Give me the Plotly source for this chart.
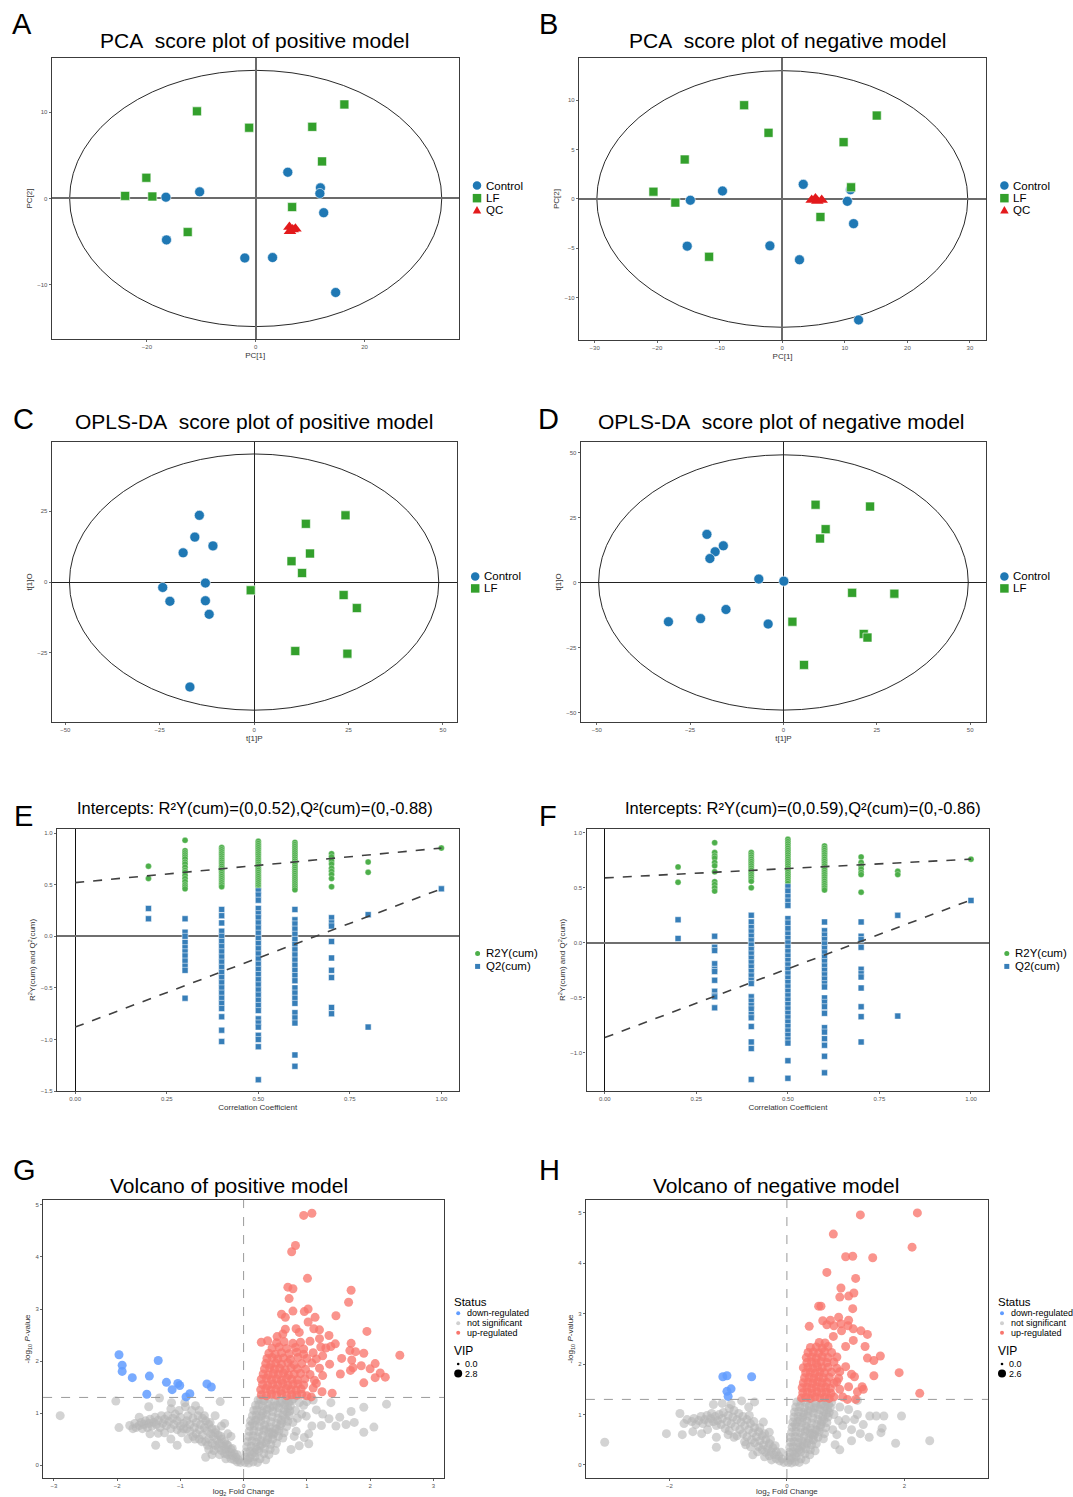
import plotly.graph_objects as go

W, H = 1073, 1497
FONT = "Liberation Sans, Arial, Helvetica, sans-serif"

# ---------------- colours ----------------
C_BLUE, C_GREEN, C_RED = "#1F78B4", "#33A02C", "#E31A1C"
P_GREEN, P_BLUE = "#4DAF4A", "#377EB8"
V_UP, V_DOWN, V_NS = "#F8766D", "#619CFF", "#B5B5B5"

# ---------------- A: PCA positive ----------------
pca_pos_control_x = [5.9, 11.9, 11.8, 12.5, -10.3, -16.5, -16.4, -2.0, 3.1, 14.7]
pca_pos_control_y = [3.04, 1.23, 0.58, -1.65, 0.77, 0.15, -4.8, -6.9, -6.85, -10.9]
pca_pos_lf_x = [16.3, -10.8, -1.2, 10.4, 12.2, -20.1, -24.0, -19.0, 6.7, -12.5]
pca_pos_lf_y = [10.9, 10.1, 8.2, 8.3, 4.3, 2.4, 0.3, 0.23, -1.0, -3.9]
pca_pos_qc_x = [6.2, 7.3, 6.3, 6.8]
pca_pos_qc_y = [-3.3, -3.5, -3.8, -3.6]
pca_pos_ellipse = [34.2, 14.85]

# ---------------- B: PCA negative ----------------
pca_neg_control_x = [3.35, 10.9, 10.4, 11.4, -9.56, -14.7, -15.2, -1.98, 2.75, 12.2]
pca_neg_control_y = [1.48, 0.94, -0.24, -2.5, 0.81, -0.13, -4.78, -4.75, -6.16, -12.26]
pca_neg_lf_x = [-6.1, 15.1, -2.2, 9.8, -15.6, 11.0, -20.6, -17.1, 6.1, -11.7]
pca_neg_lf_y = [9.5, 8.45, 6.7, 5.76, 4.0, 1.18, 0.74, -0.37, -1.82, -5.86]
pca_neg_qc_x = [4.7, 5.3, 5.6, 6.3]
pca_neg_qc_y = [-0.1, 0.05, -0.2, -0.1]
pca_neg_ellipse = [29.65, 13.0]

# ---------------- C: OPLS-DA positive ----------------
opls_pos_control_x = [-14.5, -15.7, -10.9, -18.8, -12.9, -24.2, -22.3, -12.9, -11.9, -17.0]
opls_pos_control_y = [23.6, 15.9, 12.8, 10.35, -0.35, -1.9, -6.8, -6.6, -11.4, -37.1]
opls_pos_lf_x = [24.2, 13.7, 14.8, 9.9, 12.7, -0.9, 23.7, 27.2, 10.9, 24.7]
opls_pos_lf_y = [23.6, 20.6, 10.1, 7.4, 3.2, -2.9, -4.6, -9.2, -24.4, -25.3]
opls_pos_ellipse = [48.9, 45.3]

# ---------------- D: OPLS-DA negative ----------------
opls_neg_control_x = [-20.5, -16.1, -18.3, -19.7, -6.6, 0.1, -15.4, -22.2, -30.8, -4.1]
opls_neg_control_y = [18.5, 14.1, 11.8, 9.2, 1.3, 0.5, -10.4, -13.9, -15.1, -16.0]
opls_neg_lf_x = [8.6, 23.2, 11.3, 9.8, 18.4, 29.7, 2.4, 21.5, 22.5, 5.5]
opls_neg_lf_y = [29.9, 29.2, 20.5, 16.9, -4.0, -4.3, -15.1, -19.8, -21.2, -31.7]
opls_neg_ellipse = [49.5, 49.1]

# ---------------- E / F: permutation tests ----------------
perm_x = [0.2, 0.3, 0.4, 0.5, 0.6, 0.7, 0.8, 1.0]
pos_r2y = [
    [0.68, 0.56],
    [0.93, 0.83, 0.81, 0.79, 0.77, 0.75, 0.72, 0.70, 0.67, 0.64, 0.62, 0.59, 0.56, 0.53, 0.50, 0.48, 0.46],
    [0.86, 0.84, 0.82, 0.80, 0.78, 0.76, 0.74, 0.72, 0.70, 0.68, 0.66, 0.64, 0.62, 0.60, 0.58, 0.56, 0.54, 0.52, 0.50, 0.48],
    [0.92, 0.90, 0.88, 0.86, 0.84, 0.82, 0.80, 0.78, 0.76, 0.74, 0.72, 0.70, 0.68, 0.66, 0.64, 0.62, 0.60, 0.58, 0.56, 0.54, 0.52, 0.50, 0.48, 0.46],
    [0.91, 0.89, 0.87, 0.85, 0.83, 0.81, 0.79, 0.77, 0.75, 0.73, 0.71, 0.69, 0.67, 0.65, 0.63, 0.61, 0.59, 0.57, 0.55, 0.53, 0.51, 0.49, 0.47, 0.45],
    [0.80, 0.77, 0.73, 0.70, 0.66, 0.63, 0.60, 0.56, 0.48],
    [0.72, 0.62],
    [0.855],
]
pos_q2 = [
    [0.27, 0.17],
    [0.17, 0.04, 0.0, -0.06, -0.11, -0.15, -0.19, -0.24, -0.29, -0.33, -0.60],
    [0.26, 0.20, 0.13, 0.05, 0.0, -0.05, -0.10, -0.15, -0.20, -0.25, -0.30, -0.35, -0.40, -0.45, -0.50, -0.55, -0.60, -0.65, -0.70, -0.78, -0.91, -1.02],
    [0.44, 0.40, 0.35, 0.27, 0.22, 0.18, 0.13, 0.08, 0.03, -0.02, -0.07, -0.12, -0.17, -0.22, -0.27, -0.32, -0.37, -0.42, -0.47, -0.52, -0.57, -0.62, -0.67, -0.72, -0.80, -0.84, -0.88, -0.96, -1.0, -1.07, -1.39],
    [0.26, 0.16, 0.12, 0.07, 0.02, -0.03, -0.08, -0.13, -0.18, -0.23, -0.28, -0.33, -0.38, -0.43, -0.50, -0.55, -0.60, -0.65, -0.74, -0.79, -0.84, -1.15, -1.26],
    [0.18, 0.13, 0.10, -0.05, -0.21, -0.33, -0.40, -0.69, -0.75],
    [0.21, -0.88],
    [0.46],
]
pos_line_r2 = [0.52, 0.855]
pos_line_q2 = [-0.88, 0.46]
line_x = [0.0, 1.0]

neg_r2y = [
    [0.69, 0.55],
    [0.91, 0.82, 0.79, 0.77, 0.73, 0.70, 0.645, 0.555, 0.53, 0.50, 0.47],
    [0.82, 0.80, 0.78, 0.76, 0.74, 0.72, 0.70, 0.68, 0.66, 0.64, 0.62, 0.60, 0.58, 0.56, 0.50],
    [0.94, 0.92, 0.90, 0.88, 0.86, 0.84, 0.82, 0.80, 0.78, 0.76, 0.74, 0.72, 0.70, 0.68, 0.66, 0.64, 0.62, 0.60, 0.58, 0.56, 0.54],
    [0.88, 0.86, 0.84, 0.82, 0.80, 0.78, 0.76, 0.74, 0.72, 0.70, 0.68, 0.66, 0.64, 0.62, 0.60, 0.58, 0.56, 0.54, 0.52, 0.50, 0.48],
    [0.78, 0.73, 0.70, 0.67, 0.64, 0.62, 0.46],
    [0.65, 0.62],
    [0.76],
]
neg_q2 = [
    [0.21, 0.04],
    [0.06, -0.04, -0.07, -0.19, -0.24, -0.26, -0.34, -0.44, -0.48, -0.49, -0.59],
    [0.25, 0.19, 0.14, 0.10, 0.06, 0.02, -0.02, -0.06, -0.10, -0.14, -0.18, -0.22, -0.26, -0.30, -0.34, -0.37, -0.49, -0.53, -0.57, -0.60, -0.65, -0.68, -0.76, -0.90, -0.96, -1.24],
    [0.51, 0.47, 0.42, 0.38, 0.34, 0.22, 0.18, 0.13, 0.08, 0.04, 0.0, -0.04, -0.08, -0.12, -0.16, -0.20, -0.24, -0.28, -0.32, -0.36, -0.40, -0.44, -0.48, -0.52, -0.56, -0.60, -0.64, -0.68, -0.72, -0.76, -0.80, -0.84, -0.88, -0.91, -1.07, -1.23],
    [0.19, 0.11, 0.07, 0.03, -0.01, -0.05, -0.09, -0.13, -0.17, -0.21, -0.25, -0.29, -0.33, -0.37, -0.40, -0.50, -0.54, -0.58, -0.64, -0.77, -0.81, -0.87, -0.93, -1.03, -1.18],
    [0.19, 0.06, 0.03, -0.04, -0.24, -0.28, -0.31, -0.41, -0.58, -0.67, -0.90],
    [0.25, -0.665],
    [0.385],
]
neg_line_r2 = [0.59, 0.76]
neg_line_q2 = [-0.86, 0.39]

# ---------------- G / H: volcano ----------------
p_threshold = 1.3

vol_pos_down = [(-1.97, 2.12), (-1.92, 1.92), (-1.92, 1.80), (-1.76, 1.68), (-1.35, 2.01), (-1.49, 1.71),
                (-1.22, 1.59), (-1.13, 1.45), (-1.04, 1.57), (-1.01, 1.53), (-1.53, 1.36), (-0.91, 1.31),
                (-0.85, 1.37), (-0.58, 1.56), (-0.51, 1.50)]
vol_pos_up = [
    (0.95, 4.80), (1.08, 4.84), (0.82, 4.22), (0.76, 4.10), (1.01, 3.59), (0.70, 3.42), (0.78, 3.39),
    (1.70, 3.36), (0.72, 3.20), (1.66, 3.13), (0.96, 2.95), (1.02, 3.00), (0.78, 2.96), (0.60, 2.90),
    (0.66, 2.84), (1.46, 2.87), (1.13, 2.84), (1.02, 2.75), (0.66, 2.61), (0.83, 2.62), (1.11, 2.62),
    (1.20, 2.60), (1.95, 2.57), (0.88, 2.55), (0.62, 2.52), (0.53, 2.47), (1.35, 2.49), (1.20, 2.43),
    (1.70, 2.34), (1.45, 2.33), (0.28, 2.36), (0.38, 2.39), (2.47, 2.11), (1.68, 2.20), (1.77, 2.18),
    (1.90, 2.15), (1.71, 2.02), (2.08, 1.95), (1.86, 1.91), (2.00, 1.85), (1.73, 1.87), (1.69, 1.82),
    (2.16, 1.77), (2.08, 1.68), (2.24, 1.69), (1.90, 1.58), (1.53, 1.75), (1.36, 1.94), (1.40, 1.38),
    (1.24, 1.41), (1.07, 1.31), (1.30, 2.25), (1.25, 2.10), (1.38, 2.28), (1.55, 2.05),
    (0.28, 1.35), (0.36, 1.33), (0.44, 1.36), (0.52, 1.34), (0.60, 1.37), (0.68, 1.33), (0.76, 1.35), (0.84, 1.34), (0.92, 1.36), (1.00, 1.33),
    (0.27, 1.45), (0.35, 1.47), (0.43, 1.44), (0.51, 1.46), (0.59, 1.43), (0.67, 1.47), (0.75, 1.45), (0.83, 1.44), (0.91, 1.46), (1.10, 1.48),
    (0.30, 1.55), (0.38, 1.53), (0.46, 1.56), (0.54, 1.54), (0.62, 1.57), (0.70, 1.53), (0.78, 1.55), (0.86, 1.56), (0.95, 1.54), (1.15, 1.57),
    (0.28, 1.65), (0.36, 1.67), (0.44, 1.64), (0.52, 1.66), (0.60, 1.63), (0.68, 1.67), (0.76, 1.65), (0.85, 1.64), (0.97, 1.66), (1.12, 1.63),
    (0.31, 1.75), (0.39, 1.73), (0.47, 1.76), (0.55, 1.74), (0.63, 1.77), (0.71, 1.73), (0.80, 1.75), (0.90, 1.76), (1.05, 1.74), (1.25, 1.72),
    (0.33, 1.85), (0.41, 1.87), (0.49, 1.84), (0.57, 1.86), (0.66, 1.83), (0.75, 1.87), (0.85, 1.85), (0.98, 1.84), (1.20, 1.86),
    (0.35, 1.95), (0.43, 1.93), (0.51, 1.96), (0.60, 1.94), (0.70, 1.97), (0.80, 1.93), (0.92, 1.95), (1.08, 1.96),
    (0.37, 2.05), (0.45, 2.07), (0.54, 2.04), (0.63, 2.06), (0.74, 2.03), (0.86, 2.07), (1.00, 2.05), (1.15, 2.04),
    (0.40, 2.15), (0.50, 2.13), (0.60, 2.16), (0.72, 2.14), (0.84, 2.17), (0.95, 2.13), (1.10, 2.16),
    (0.45, 2.25), (0.56, 2.27), (0.68, 2.24), (0.82, 2.26), (0.95, 2.23), (1.22, 2.27),
    (0.52, 2.35), (0.64, 2.37), (0.78, 2.34), (0.90, 2.36), (1.05, 2.38),
]
vol_pos_ns = [
    (-0.05, 0.05), (-0.08, 0.10), (-0.10, 0.06), (-0.12, 0.15), (-0.15, 0.10), (-0.15, 0.22), (-0.18, 0.18),
    (-0.20, 0.12), (-0.20, 0.30), (-0.22, 0.25), (-0.25, 0.20), (-0.25, 0.38), (-0.28, 0.30), (-0.30, 0.22),
    (-0.30, 0.45), (-0.32, 0.36), (-0.35, 0.28), (-0.35, 0.50), (-0.38, 0.42), (-0.40, 0.33), (-0.40, 0.58),
    (-0.42, 0.48), (-0.45, 0.38), (-0.45, 0.62), (-0.48, 0.55), (-0.50, 0.42), (-0.50, 0.70), (-0.52, 0.60),
    (-0.55, 0.50), (-0.55, 0.78), (-0.58, 0.66), (-0.60, 0.45), (-0.60, 0.85), (-0.62, 0.72), (-0.65, 0.58),
    (-0.65, 0.90), (-0.68, 0.78), (-0.70, 0.50), (-0.70, 0.68), (-0.72, 0.95), (-0.75, 0.82), (-0.75, 0.60),
    (-0.78, 0.72), (-0.80, 0.90), (-0.80, 0.55), (-0.82, 1.05), (-0.85, 0.78), (-0.85, 0.65), (-0.88, 0.95),
    (-0.90, 0.70), (-0.90, 0.85), (-0.92, 1.12), (-0.95, 0.80), (-0.98, 0.62), (-1.00, 0.92), (-1.00, 0.75),
    (-1.02, 1.05), (-1.05, 0.68), (-1.05, 0.85), (-1.08, 0.98), (-1.10, 0.78), (-1.12, 0.90), (-1.15, 0.70),
    (-1.15, 1.08), (-1.18, 0.84), (-1.20, 0.95), (-1.22, 0.76), (-1.25, 0.88), (-1.28, 0.80), (-1.30, 0.95),
    (-1.32, 0.72), (-1.35, 0.86), (-1.38, 0.78), (-1.40, 0.92), (-1.42, 0.82), (-1.45, 0.75), (-1.48, 0.88),
    (-1.50, 0.80), (-1.52, 0.72), (-1.55, 0.85), (-1.58, 0.78), (-1.60, 0.70), (-1.62, 0.82), (-1.65, 0.76),
    (-1.70, 0.72), (-1.72, 0.80), (-1.75, 0.70), (-1.80, 0.76),
    (-0.10, 0.20), (-0.18, 0.32), (-0.27, 0.40), (-0.36, 0.55), (-0.44, 0.68), (-0.53, 0.82), (-0.62, 0.95),
    (-0.28, 0.12), (-0.38, 0.20), (-0.47, 0.28), (-0.57, 0.38), (-0.66, 0.45), (-0.77, 0.50), (-0.95, 0.70),
    (-2.90, 0.95), (-1.97, 0.72), (-2.02, 1.23), (-1.50, 1.12), (-1.33, 1.29), (-1.14, 1.20), (-0.93, 1.20),
    (-0.76, 1.14), (-0.37, 1.22), (-0.50, 0.20), (-1.48, 0.60), (-1.35, 0.61), (-1.39, 0.38), (-1.05, 0.38),
    (-1.65, 0.92), (-1.25, 0.62), (-0.88, 0.50), (-1.15, 0.50), (-0.35, 0.75), (-0.20, 0.55), (-0.55, 0.30),
    (-0.60, 0.15), (-0.30, 0.80), (-0.70, 1.05), (-0.45, 0.95), (-0.25, 0.60),
    (0.02, 0.05), (0.08, 0.04), (0.15, 0.06), (0.22, 0.05),
    (0.03, 0.15), (0.10, 0.14), (0.18, 0.16), (0.26, 0.12), (0.35, 0.10),
    (0.04, 0.25), (0.10, 0.26), (0.17, 0.24), (0.24, 0.27), (0.32, 0.22), (0.40, 0.20),
    (0.05, 0.35), (0.12, 0.36), (0.19, 0.34), (0.26, 0.37), (0.33, 0.32), (0.42, 0.30), (0.50, 0.28),
    (0.06, 0.45), (0.13, 0.46), (0.20, 0.44), (0.27, 0.47), (0.35, 0.43), (0.43, 0.40), (0.52, 0.42),
    (0.08, 0.55), (0.15, 0.56), (0.22, 0.54), (0.30, 0.57), (0.38, 0.53), (0.46, 0.50), (0.55, 0.55), (0.62, 0.52),
    (0.09, 0.65), (0.16, 0.66), (0.24, 0.64), (0.32, 0.67), (0.40, 0.63), (0.48, 0.60), (0.56, 0.66), (0.64, 0.62),
    (0.10, 0.75), (0.17, 0.76), (0.25, 0.74), (0.33, 0.77), (0.41, 0.73), (0.50, 0.70), (0.58, 0.76), (0.68, 0.74),
    (0.11, 0.85), (0.19, 0.86), (0.27, 0.84), (0.35, 0.87), (0.43, 0.83), (0.52, 0.80), (0.60, 0.86), (0.70, 0.84),
    (0.14, 0.95), (0.20, 0.96), (0.28, 0.94), (0.36, 0.97), (0.45, 0.93), (0.54, 0.90), (0.62, 0.96), (0.72, 0.95),
    (0.16, 1.05), (0.21, 1.06), (0.29, 1.04), (0.37, 1.07), (0.46, 1.03), (0.55, 1.00), (0.64, 1.06), (0.73, 1.04),
    (0.19, 1.15), (0.24, 1.16), (0.30, 1.14), (0.38, 1.17), (0.47, 1.13), (0.56, 1.10), (0.65, 1.16), (0.74, 1.14),
    (0.23, 1.25), (0.27, 1.27), (0.32, 1.24), (0.40, 1.27), (0.49, 1.23), (0.58, 1.20), (0.67, 1.26), (0.76, 1.24),
    (0.06, 0.10), (0.13, 0.20), (0.21, 0.30), (0.29, 0.40), (0.38, 0.48), (0.46, 0.58), (0.52, 0.69),
    (0.60, 0.80), (0.66, 0.90), (0.69, 1.01), (0.70, 1.10), (0.71, 1.20), (0.14, 0.80), (0.23, 0.90),
    (0.31, 1.00), (0.42, 1.10), (0.52, 1.16), (0.61, 1.22), (0.44, 0.62), (0.36, 0.70),
    (1.15, 1.06), (0.99, 0.94), (1.35, 0.89), (1.52, 0.92), (1.75, 0.82), (1.90, 1.11), (2.26, 1.17),
    (1.70, 1.03), (2.06, 0.73), (1.90, 0.63), (1.46, 0.75), (1.08, 0.75), (1.23, 0.76), (0.96, 0.53),
    (1.03, 0.41), (0.88, 0.37), (0.83, 0.65), (1.03, 0.60), (0.85, 0.90), (0.88, 1.20), (1.00, 1.22),
    (1.10, 1.25), (0.95, 1.15), (0.82, 1.05), (0.78, 0.82), (0.92, 0.98), (0.80, 0.55), (0.75, 0.30),
    (1.38, 1.20), (1.25, 0.98), (1.62, 0.78), (0.79, 1.28),
]

vol_neg_down = [(-1.09, 1.75), (-1.02, 1.77), (-0.60, 1.75), (-0.95, 1.51), (-1.02, 1.46), (-1.00, 1.36)]
vol_neg_up = [
    (2.22, 5.00), (1.25, 4.96), (0.79, 4.58), (2.13, 4.32), (1.00, 4.13), (1.12, 4.14), (1.46, 4.11),
    (0.68, 3.82), (1.17, 3.70), (0.92, 3.51), (1.14, 3.41), (0.90, 3.33), (1.05, 3.35), (0.54, 3.15),
    (0.58, 3.15), (1.12, 3.10), (0.61, 2.86), (0.74, 2.87), (0.88, 2.93), (1.05, 2.87), (0.92, 2.80),
    (0.68, 2.78), (0.38, 2.75), (0.80, 2.76), (1.04, 2.76), (1.13, 2.70), (1.26, 2.66), (0.93, 2.66),
    (1.37, 2.59), (0.79, 2.55), (1.13, 2.47), (1.00, 2.35), (1.33, 2.35), (1.59, 2.16), (1.37, 2.12),
    (1.48, 2.07), (1.91, 1.83), (1.48, 1.77), (2.26, 1.42),
    (0.90, 1.50), (1.05, 1.55), (1.20, 1.45), (1.30, 1.50), (1.10, 1.80), (0.90, 1.85), (1.00, 1.95),
    (1.15, 1.75), (0.85, 1.65), (1.03, 1.30), (1.17, 1.30), (1.28, 1.55), (0.95, 1.35),
    (0.25, 1.33), (0.32, 1.34), (0.40, 1.32), (0.48, 1.35), (0.56, 1.33), (0.64, 1.34), (0.72, 1.32), (0.80, 1.35),
    (0.27, 1.43), (0.35, 1.44), (0.43, 1.42), (0.51, 1.45), (0.59, 1.43), (0.67, 1.44), (0.75, 1.42),
    (0.26, 1.53), (0.34, 1.54), (0.42, 1.52), (0.50, 1.55), (0.58, 1.53), (0.66, 1.54), (0.74, 1.52),
    (0.28, 1.63), (0.36, 1.64), (0.44, 1.62), (0.52, 1.65), (0.60, 1.63), (0.68, 1.64), (0.80, 1.62),
    (0.30, 1.73), (0.38, 1.74), (0.46, 1.72), (0.54, 1.75), (0.62, 1.73), (0.72, 1.74), (0.88, 1.72),
    (0.32, 1.83), (0.40, 1.84), (0.48, 1.82), (0.56, 1.85), (0.64, 1.83), (0.76, 1.84),
    (0.28, 1.93), (0.36, 1.94), (0.44, 1.92), (0.52, 1.95), (0.60, 1.93), (0.70, 1.94), (0.85, 1.92),
    (0.34, 2.03), (0.42, 2.04), (0.50, 2.02), (0.58, 2.05), (0.68, 2.03), (0.80, 2.04),
    (0.33, 2.13), (0.42, 2.14), (0.50, 2.12), (0.60, 2.15), (0.70, 2.13), (0.85, 2.14),
    (0.36, 2.23), (0.45, 2.24), (0.54, 2.22), (0.64, 2.25), (0.76, 2.23),
    (0.40, 2.33), (0.50, 2.34), (0.60, 2.32), (0.70, 2.35), (0.55, 2.43), (0.65, 2.42),
]
vol_neg_ns = [
    (-0.05, 0.05), (-0.08, 0.12), (-0.12, 0.08), (-0.14, 0.18), (-0.18, 0.12), (-0.18, 0.26), (-0.22, 0.20),
    (-0.24, 0.34), (-0.27, 0.26), (-0.30, 0.18), (-0.30, 0.42), (-0.33, 0.33), (-0.36, 0.25), (-0.36, 0.50),
    (-0.40, 0.40), (-0.42, 0.30), (-0.42, 0.58), (-0.46, 0.48), (-0.48, 0.36), (-0.48, 0.66), (-0.52, 0.56),
    (-0.55, 0.44), (-0.55, 0.74), (-0.58, 0.64), (-0.60, 0.50), (-0.62, 0.82), (-0.65, 0.70), (-0.68, 0.56),
    (-0.68, 0.90), (-0.72, 0.78), (-0.75, 0.62), (-0.75, 0.96), (-0.78, 0.85), (-0.80, 0.70), (-0.82, 1.02),
    (-0.85, 0.90), (-0.88, 0.76), (-0.90, 1.08), (-0.92, 0.95), (-0.95, 0.82), (-0.98, 1.12), (-1.00, 0.98),
    (-1.02, 0.86), (-1.05, 0.72), (-1.08, 1.04), (-1.10, 0.92), (-1.12, 0.80), (-1.15, 1.00), (-1.18, 0.88),
    (-1.20, 0.78), (-1.22, 0.96), (-1.25, 0.86), (-1.28, 1.02), (-1.30, 0.92), (-1.33, 0.84), (-1.36, 0.98),
    (-1.40, 0.90), (-1.43, 0.82), (-1.46, 0.96), (-1.50, 0.88), (-1.55, 0.80), (-1.58, 0.92), (-1.62, 0.86),
    (-1.70, 0.90), (-1.75, 0.82),
    (-0.10, 0.25), (-0.20, 0.38), (-0.28, 0.50), (-0.38, 0.62), (-0.46, 0.74), (-0.56, 0.86), (-0.64, 0.98),
    (-0.26, 0.10), (-0.38, 0.16), (-0.50, 0.26), (-0.62, 0.36), (-0.72, 0.46), (-0.85, 0.58), (-0.98, 0.68),
    (-3.10, 0.45), (-2.05, 0.62), (-1.82, 1.02), (-1.78, 0.60), (-1.20, 0.55), (-1.25, 1.20), (-0.77, 1.27),
    (-0.55, 1.25), (-1.20, 0.35), (-1.45, 0.62), (-1.60, 0.66), (-0.95, 1.20), (-1.10, 1.22), (-0.65, 1.15),
    (-1.35, 0.70), (-0.90, 0.55), (-0.70, 0.40), (-0.40, 0.85), (-0.30, 0.65), (-1.00, 0.60), (-0.58, 0.20),
    (0.02, 0.05), (0.08, 0.04), (0.14, 0.06), (0.21, 0.05),
    (0.03, 0.15), (0.09, 0.14), (0.16, 0.16), (0.24, 0.12), (0.32, 0.10),
    (0.04, 0.25), (0.10, 0.26), (0.17, 0.24), (0.24, 0.27), (0.31, 0.22), (0.39, 0.20),
    (0.05, 0.35), (0.11, 0.36), (0.18, 0.34), (0.25, 0.37), (0.32, 0.32), (0.40, 0.30), (0.48, 0.28),
    (0.06, 0.45), (0.12, 0.46), (0.19, 0.44), (0.26, 0.47), (0.34, 0.43), (0.42, 0.40), (0.50, 0.42),
    (0.07, 0.55), (0.14, 0.56), (0.21, 0.54), (0.29, 0.57), (0.37, 0.53), (0.45, 0.50), (0.53, 0.55), (0.62, 0.52),
    (0.08, 0.65), (0.15, 0.66), (0.23, 0.64), (0.31, 0.67), (0.39, 0.63), (0.47, 0.60), (0.55, 0.66), (0.64, 0.62),
    (0.09, 0.75), (0.16, 0.76), (0.24, 0.74), (0.32, 0.77), (0.40, 0.73), (0.49, 0.70), (0.57, 0.76), (0.66, 0.74),
    (0.10, 0.85), (0.18, 0.86), (0.26, 0.84), (0.34, 0.87), (0.42, 0.83), (0.51, 0.80), (0.59, 0.86), (0.68, 0.84),
    (0.12, 0.95), (0.19, 0.96), (0.27, 0.94), (0.35, 0.97), (0.44, 0.93), (0.53, 0.90), (0.61, 0.96), (0.70, 0.95),
    (0.13, 1.05), (0.20, 1.06), (0.28, 1.04), (0.36, 1.07), (0.45, 1.03), (0.54, 1.00), (0.63, 1.06), (0.72, 1.04),
    (0.15, 1.15), (0.22, 1.16), (0.30, 1.14), (0.38, 1.17), (0.47, 1.13), (0.56, 1.10), (0.65, 1.16), (0.74, 1.14),
    (0.17, 1.25), (0.24, 1.27), (0.32, 1.24), (0.40, 1.27), (0.49, 1.23), (0.58, 1.20), (0.67, 1.26), (0.76, 1.24),
    (0.06, 0.10), (0.13, 0.20), (0.21, 0.30), (0.29, 0.40), (0.37, 0.48), (0.45, 0.58), (0.51, 0.69),
    (0.58, 0.80), (0.63, 0.90), (0.67, 1.01), (0.69, 1.10), (0.71, 1.20), (0.14, 0.80), (0.22, 0.90),
    (0.30, 1.00), (0.41, 1.10), (0.51, 1.16), (0.60, 1.22), (0.43, 0.62), (0.35, 0.70),
    (1.00, 0.90), (1.20, 1.00), (1.41, 0.97), (1.52, 0.97), (1.65, 0.97), (1.95, 0.97), (1.62, 0.73),
    (1.85, 0.43), (2.43, 0.48), (1.40, 0.55), (1.10, 0.48), (0.90, 0.30), (1.20, 1.28), (1.10, 0.70),
    (0.85, 0.60), (0.80, 1.00), (0.90, 1.15), (0.95, 0.78), (1.05, 1.10), (0.82, 0.40), (1.30, 0.80),
    (1.15, 0.90), (0.78, 0.70), (0.88, 0.88), (1.60, 0.64), (1.25, 0.62),
]

# ---------------- layout geometry (pixels: left, top, right, bottom) ----------------
boxes = {
    1: (51.7, 58, 458.6, 340), 2: (579, 58, 986.2, 341),
    3: (51.7, 443, 456.9, 724), 4: (580.7, 443, 986.2, 724),
    5: (56.9, 831, 458.6, 1094), 6: (586.5, 831, 989.3, 1094),
    7: (43.1, 1203, 444.1, 1482), 8: (585.9, 1203, 987.9, 1482),
}

fig = go.Figure()


def axn(i):
    return "" if i == 1 else str(i)


def scatter(i, x, y, color, symbol, size, opacity=1.0, lw=0.6, lc="white"):
    fig.add_trace(go.Scatter(
        x=x, y=y, mode="markers", showlegend=False, hoverinfo="x+y",
        xaxis="x" + axn(i), yaxis="y" + axn(i),
        marker=dict(color=color, symbol=symbol, size=size, opacity=opacity,
                    line=dict(color=lc, width=lw))))


# A-D score plots
score_sets = [
    (1, pca_pos_control_x, pca_pos_control_y, pca_pos_lf_x, pca_pos_lf_y, pca_pos_qc_x, pca_pos_qc_y, pca_pos_ellipse),
    (2, pca_neg_control_x, pca_neg_control_y, pca_neg_lf_x, pca_neg_lf_y, pca_neg_qc_x, pca_neg_qc_y, pca_neg_ellipse),
    (3, opls_pos_control_x, opls_pos_control_y, opls_pos_lf_x, opls_pos_lf_y, None, None, opls_pos_ellipse),
    (4, opls_neg_control_x, opls_neg_control_y, opls_neg_lf_x, opls_neg_lf_y, None, None, opls_neg_ellipse),
]
shapes = []
for i, cx, cy, lx, ly, qx, qy, ell in score_sets:
    shapes.append(dict(type="circle", xref="x" + axn(i), yref="y" + axn(i),
                       x0=-ell[0], x1=ell[0], y0=-ell[1], y1=ell[1],
                       line=dict(color="#111111", width=0.9), layer="below"))
    scatter(i, cx, cy, C_BLUE, "circle", 10)
    scatter(i, lx, ly, C_GREEN, "square", 9)
    if qx is not None:
        scatter(i, qx, qy, C_RED, "triangle-up", 11, lw=0)

# E/F permutation plots
for i, r2, q2, lr2, lq2 in [(5, pos_r2y, pos_q2, pos_line_r2, pos_line_q2),
                            (6, neg_r2y, neg_q2, neg_line_r2, neg_line_q2)]:
    for xv, vals in zip(perm_x, r2):
        scatter(i, [xv] * len(vals), vals, P_GREEN, "circle", 6, lw=0.3)
    for xv, vals in zip(perm_x, q2):
        scatter(i, [xv] * len(vals), vals, P_BLUE, "square", 6, lw=0.5)
    for ln in (lr2, lq2):
        fig.add_trace(go.Scatter(x=line_x, y=ln, mode="lines", showlegend=False,
                                 xaxis="x" + axn(i), yaxis="y" + axn(i),
                                 line=dict(color="#404040", width=1.6, dash="dash")))

# G/H volcano plots
for i, ns, up, dn in [(7, vol_pos_ns, vol_pos_up, vol_pos_down), (8, vol_neg_ns, vol_neg_up, vol_neg_down)]:
    scatter(i, [p[0] for p in ns], [p[1] for p in ns], V_NS, "circle", 9, opacity=0.6, lw=0)
    scatter(i, [p[0] for p in up], [p[1] for p in up], V_UP, "circle", 9, opacity=0.78, lw=0)
    scatter(i, [p[0] for p in dn], [p[1] for p in dn], V_DOWN, "circle", 9, opacity=0.85, lw=0)
    shapes.append(dict(type="line", xref="x" + axn(i), yref="y" + axn(i) + " domain",
                       x0=0, x1=0, y0=0, y1=1, line=dict(color="#9a9a9a", width=1, dash="dash")))
    shapes.append(dict(type="line", xref="x" + axn(i) + " domain", yref="y" + axn(i),
                       x0=0, x1=1, y0=p_threshold, y1=p_threshold,
                       line=dict(color="#9a9a9a", width=1, dash="dash")))

# ---------------- axes ----------------
axis_specs = {
    1: dict(xr=[-37.5, 37.3], yr=[-16.3, 16.3], xd=20, yd=10, xt="PC[1]", yt="PC[2]", xf=None, yf=None),
    2: dict(xr=[-32.5, 32.6], yr=[-14.3, 14.3], xd=10, yd=5, xt="PC[1]", yt="PC[2]", xf=None, yf=None),
    3: dict(xr=[-53.6, 53.7], yr=[-49.5, 49.6], xd=25, yd=25, xt="t[1]P", yt="t[1]O", xf=None, yf=None),
    4: dict(xr=[-54.3, 54.3], yr=[-53.7, 54.1], xd=25, yd=25, xt="t[1]P", yt="t[1]O", xf=None, yf=None),
    5: dict(xr=[-0.05, 1.047], yr=[-1.5, 1.042], xd=0.25, yd=0.5, xt="Correlation Coefficient",
            yt="R<sup>2</sup>Y(cum) and Q<sup>2</sup>(cum)", xf=".2f", yf=".1f"),
    6: dict(xr=[-0.05, 1.05], yr=[-1.346, 1.036], xd=0.25, yd=0.5, xt="Correlation Coefficient",
            yt="R<sup>2</sup>Y(cum) and Q<sup>2</sup>(cum)", xf=".2f", yf=".1f"),
    7: dict(xr=[-3.17, 3.17], yr=[-0.25, 5.1], xd=1, yd=1, xt="log<sub>2</sub> Fold Change",
            yt="-log<sub>10</sub> <i>P</i>-value", xf=None, yf=None),
    8: dict(xr=[-3.42, 3.42], yr=[-0.26, 5.26], xd=2, yd=1, xt="log<sub>2</sub> Fold Change",
            yt="-log<sub>10</sub> <i>P</i>-value", xf=None, yf=None),
}

layout_axes = {}
for i, s in axis_specs.items():
    l, t, r, b = boxes[i]
    common = dict(showline=True, mirror=True, linecolor="#3c3c3c", linewidth=1.3, showgrid=False,
                  ticks="outside", ticklen=2, tickwidth=0.6, tickcolor="#666666",
                  tickfont=dict(size=6, color="#555555", family=FONT),
                  title_font=dict(size=8, color="#333333", family=FONT))
    zl = i <= 6
    if i <= 2:
        xzc, yzc, zw = "#6b6b6b", "#6b6b6b", 1.6
    elif i <= 4:
        xzc, yzc, zw = "#222222", "#222222", 1.0
    else:
        xzc, yzc, zw = "#111111", "#6f6f6f", 1.3
    xa = dict(common, domain=[l / W, r / W], range=s["xr"], dtick=s["xd"], tick0=0,
              anchor="y" + axn(i), title=dict(text=s["xt"], standoff=2),
              zeroline=zl, zerolinecolor=xzc, zerolinewidth=zw if i <= 4 else 1.0)
    ya = dict(common, domain=[1 - b / H, 1 - t / H], range=s["yr"], dtick=s["yd"], tick0=0,
              anchor="x" + axn(i), title=dict(text=s["yt"], standoff=3),
              zeroline=zl, zerolinecolor=yzc, zerolinewidth=zw if i <= 4 else 1.6)
    if s["xf"]:
        xa["tickformat"] = s["xf"]
    if s["yf"]:
        ya["tickformat"] = s["yf"]
    layout_axes["xaxis" + axn(i)] = xa
    layout_axes["yaxis" + axn(i)] = ya

# ---------------- annotations: titles, panel letters, legends ----------------
annotations = []


def text(xpx, ypx, s, size, anchor="center", color="#000000"):
    annotations.append(dict(xref="paper", yref="paper", x=xpx / W, y=1 - ypx / H, text=s,
                            showarrow=False, xanchor=anchor, yanchor="middle",
                            font=dict(size=size, color=color, family=FONT)))


panel_letters = ["A", "B", "C", "D", "E", "F", "G", "H"]
letter_pos = [(22, 24), (548.5, 24), (23, 420), (548, 420), (23, 818), (548, 818), (24, 1173), (549, 1173)]
for letter, (lx, ly) in zip(panel_letters, letter_pos):
    text(lx, ly, letter, 29)

titles = [
    ("PCA\u00a0 score plot of positive model", 254, 41, 21),
    ("PCA\u00a0 score plot of negative model", 788, 41, 21),
    ("OPLS-DA\u00a0 score plot of positive model", 254, 423, 21),
    ("OPLS-DA\u00a0 score plot of negative model", 781.6, 423, 21),
    ("Intercepts: R\u00b2Y(cum)=(0,0.52),Q\u00b2(cum)=(0,-0.88)", 254.7, 810, 16.5),
    ("Intercepts: R\u00b2Y(cum)=(0,0.59),Q\u00b2(cum)=(0,-0.86)", 802.5, 810, 16.5),
    ("Volcano of positive model", 228.6, 1189, 21),
    ("Volcano of negative model", 775.5, 1189, 21),
]
for s, x, y, fs in titles:
    text(x, y, s, fs)


def sym(kind, xpx, ypx, size, color):
    r = size / 2
    base = dict(xref="paper", yref="paper", xsizemode="pixel", ysizemode="pixel",
                xanchor=xpx / W, yanchor=1 - ypx / H, fillcolor=color,
                line=dict(width=0), layer="above")
    if kind == "circle":
        return dict(type="circle", x0=-r, x1=r, y0=-r, y1=r, **base)
    if kind == "square":
        return dict(type="rect", x0=-r, x1=r, y0=-r, y1=r, **base)
    return dict(type="path", path=f"M {-r},{-r * 0.8} L {r},{-r * 0.8} L 0,{r} Z", **base)


group_legends = [
    (477, [186, 198.7, 210.7], ["Control", "LF", "QC"]),
    (1004.4, [186, 198.7, 210.7], ["Control", "LF", "QC"]),
    (475.2, [578, 590], ["Control", "LF"]),
    (1004.4, [578, 590], ["Control", "LF"]),
]
kinds = [("circle", C_BLUE), ("square", C_GREEN), ("triangle", C_RED)]
for lx, ys, labels in group_legends:
    for (kind, col), yy, lab in zip(kinds, ys, labels):
        shapes.append(sym(kind, lx, yy, 8.5, col))
        text(lx + 7, yy, lab, 11.5, anchor="left")

perm_legend_labels = ["R2Y(cum)", "Q2(cum)"]
for lx in (477.6, 1006.8):
    shapes.append(sym("circle", lx, 956, 5, P_GREEN))
    text(lx + 6.5, 956, perm_legend_labels[0], 11.5, anchor="left")
    shapes.append(sym("square", lx, 969, 5, P_BLUE))
    text(lx + 6.5, 969, perm_legend_labels[1], 11.5, anchor="left")

status_labels = ["down-regulated", "not significant", "up-regulated"]
status_colors = [V_DOWN, "#d0d0d0", V_UP]
vip_labels = [("0.0", "2.8"), ("0.0", "2.6")]
for (sx, vl) in zip((451.7, 995.5), vip_labels):
    text(sx, 1305, "Status", 11.5, anchor="left")
    for yy, lab, col in zip((1316.7, 1326.7, 1336.3), status_labels, status_colors):
        shapes.append(sym("circle", sx + 6.5, yy, 4, col))
        text(sx + 13, yy, lab, 9, anchor="left")
    text(sx, 1354.5, "VIP", 12, anchor="left")
    shapes.append(sym("circle", sx + 6.5, 1367.7, 2.6, "#000000"))
    text(sx + 11.5, 1367.7, vl[0], 9, anchor="left")
    shapes.append(sym("circle", sx + 6.5, 1377.3, 8, "#000000"))
    text(sx + 11.5, 1377.3, vl[1], 9, anchor="left")

fig.update_layout(
    width=W, height=H, margin=dict(l=0, r=0, t=0, b=0),
    paper_bgcolor="white", plot_bgcolor="white",
    font=dict(family=FONT, color="#000000"),
    showlegend=False, shapes=shapes, annotations=annotations,
    **layout_axes,
)

fig.write_html("out.html", config={"displayModeBar": False},
               post_script="document.body.style.margin='0px';document.body.style.overflow='hidden';")
